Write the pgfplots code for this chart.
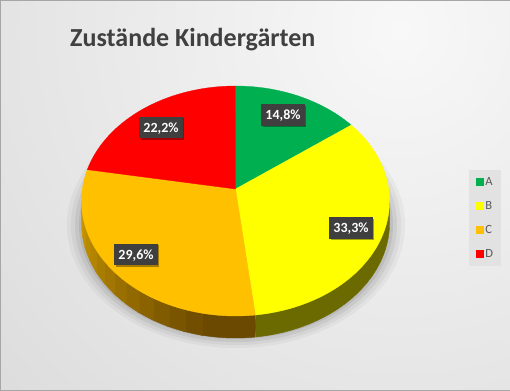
\documentclass[border=0pt]{standalone}
\usepackage{fontspec}
\setmainfont{Carlito}
\usepackage{pgfplots}
\usepackage{pgfplotstable}
\pgfplotsset{compat=1.18}
\usetikzlibrary{shadows}

\definecolor{pieA}{HTML}{00B050}
\definecolor{pieB}{HTML}{FFFF00}
\definecolor{pieC}{HTML}{FFC000}
\definecolor{pieD}{HTML}{FF0000}
\definecolor{sideB}{HTML}{6A6A00}
\definecolor{sideCd}{HTML}{6B4900}
\definecolor{sideCl}{HTML}{C89600}
\definecolor{bgin}{HTML}{F8F8F8}
\definecolor{bgout}{HTML}{BFBFBF}
\definecolor{lblbg}{HTML}{3F3F3F}
\definecolor{titlecol}{HTML}{404040}
\definecolor{legtext}{HTML}{595959}
\definecolor{legbg}{HTML}{E2E2E2}
\definecolor{framecol}{HTML}{A6A6A6}

\pgfdeclareradialshading{bgshade}{\pgfpoint{0bp}{0bp}}{color(0bp)=(bgin); color(50bp)=(bgout)}

\pgfplotstableread{
label value
A 14.8
B 33.3
C 29.6
D 22.2
}\piedata

% side band of a slice between angles #1 and #2 (front part only):
% one closed loop, bottom edge for 0<t<180, top edge for 180<t<360
\newcommand\sideseg[3]{%
  \addplot[fill=#3, draw=#3, line width=0.4pt, domain=0:360, samples=61]
    ({px(#1+(#2-#1)*(1-cos(x))/2)},
     {py(#1+(#2-#1)*(1-cos(x))/2)+22*min(1,max(0,0.5+20*sin(x)))}) -- cycle;}

\begin{document}
\begin{tikzpicture}
\pgfplotstablegetelem{0}{value}\of\piedata \edef\vA{\pgfplotsretval}
\pgfplotstablegetelem{1}{value}\of\piedata \edef\vB{\pgfplotsretval}
\pgfplotstablegetelem{2}{value}\of\piedata \edef\vC{\pgfplotsretval}
\pgfplotstablegetelem{3}{value}\of\piedata \edef\vD{\pgfplotsretval}
\pgfmathsetmacro\tot{\vA+\vB+\vC+\vD}
\pgfmathsetmacro\aA{\vA/\tot*360}
\pgfmathsetmacro\aB{(\vA+\vB)/\tot*360}
\pgfmathsetmacro\aC{(\vA+\vB+\vC)/\tot*360}
\begin{axis}[
  scale only axis, width=510pt, height=390pt,
  xmin=0, xmax=510, ymin=0, ymax=390, y dir=reverse,
  hide axis,
  declare function={
    px(\p)=235.5+153.2*sin(\p)/(1+0.104*cos(\p));
    py(\p)=201-115*(cos(\p)+0.104)/(1+0.104*cos(\p));
  },
  legend style={at={(axis cs:485,217.5)}, anchor=center, fill=legbg, draw=none,
    text=legtext, inner xsep=7pt, inner ysep=7pt, row sep=14pt, column sep=1pt,
    nodes={inner sep=1pt, text height=8pt, text depth=0pt,
           font=\fontsize{12.5}{13}\selectfont, text=legtext}},
  legend cell align=left,
]
\addlegendimage{legend image code/.code={\fill[pieA] (0pt,-3.5pt) rectangle (7pt,3.5pt);}}
\addlegendimage{legend image code/.code={\fill[pieB] (0pt,-3.5pt) rectangle (7pt,3.5pt);}}
\addlegendimage{legend image code/.code={\fill[pieC] (0pt,-3.5pt) rectangle (7pt,3.5pt);}}
\addlegendimage{legend image code/.code={\fill[pieD] (0pt,-3.5pt) rectangle (7pt,3.5pt);}}

% background
\begin{scope}
  \clip (axis cs:0,0) rectangle (axis cs:510,390);
  \shade[shading=bgshade, overlay] (axis cs:400,30) circle[radius=560pt];
\end{scope}
\draw[framecol, line width=0.8pt] (axis cs:0,0) rectangle (axis cs:510,390);

% soft shadow under the pie
\fill[black, opacity=0.035] (axis cs:236,225) ellipse[x radius=169pt, y radius=123pt];
\fill[black, opacity=0.045] (axis cs:236,225) ellipse[x radius=165pt, y radius=120pt];
\fill[black, opacity=0.06] (axis cs:236,225) ellipse[x radius=161pt, y radius=117pt];
\fill[black, opacity=0.07] (axis cs:236,225) ellipse[x radius=157pt, y radius=114pt];

% side bands (front half: 96..264 degrees); C side in overlapping gradient strips
\sideseg{96}{\aB}{sideB}
\sideseg{\aB}{192}{sideCd}
\sideseg{191}{198}{sideCd!93!sideCl}
\sideseg{197}{204}{sideCd!84!sideCl}
\sideseg{203}{210}{sideCd!76!sideCl}
\sideseg{209}{216}{sideCd!67!sideCl}
\sideseg{215}{222}{sideCd!59!sideCl}
\sideseg{221}{228}{sideCd!50!sideCl}
\sideseg{227}{234}{sideCd!41!sideCl}
\sideseg{233}{240}{sideCd!33!sideCl}
\sideseg{239}{246}{sideCd!24!sideCl}
\sideseg{245}{252}{sideCd!16!sideCl}
\sideseg{251}{258}{sideCd!7!sideCl}
\sideseg{257}{264}{sideCl}

% top faces
\addplot[fill=pieA, draw=pieA, line width=0.3pt, domain=0:\aA, samples=40] ({px(x)},{py(x)}) -- (axis cs:235.5,189) -- cycle;
\addplot[fill=pieB, draw=pieB, line width=0.3pt, domain=\aA:\aB, samples=70] ({px(x)},{py(x)}) -- (axis cs:235.5,189) -- cycle;
\addplot[fill=pieC, draw=pieC, line width=0.3pt, domain=\aB:\aC, samples=70] ({px(x)},{py(x)}) -- (axis cs:235.5,189) -- cycle;
\addplot[fill=pieD, draw=pieD, line width=0.3pt, domain=\aC:360, samples=50] ({px(x)},{py(x)}) -- (axis cs:235.5,189) -- cycle;

% data labels
\tikzset{lbl/.style={fill=lblbg, text=white, font=\fontsize{14}{16}\selectfont\bfseries,
  inner xsep=4pt, inner ysep=0pt, minimum height=21.5pt, text height=9.8pt, text depth=0pt,
  drop shadow={shadow xshift=1.5pt, shadow yshift=-1.5pt, opacity=0.35, fill=black}}}
\node[lbl] at (axis cs:283,115) {14,8\%};
\node[lbl] at (axis cs:351,228) {33,3\%};
\node[lbl] at (axis cs:136,254.5) {29,6\%};
\node[lbl] at (axis cs:161,127.5) {22,2\%};

% title
\node[anchor=base west, inner sep=0pt, text=titlecol, font=\fontsize{26}{30}\selectfont\bfseries]
  at (axis cs:70,46.7) {Zustände Kindergärten};

\legend{A,B,C,D}
\end{axis}
\end{tikzpicture}
\end{document}
